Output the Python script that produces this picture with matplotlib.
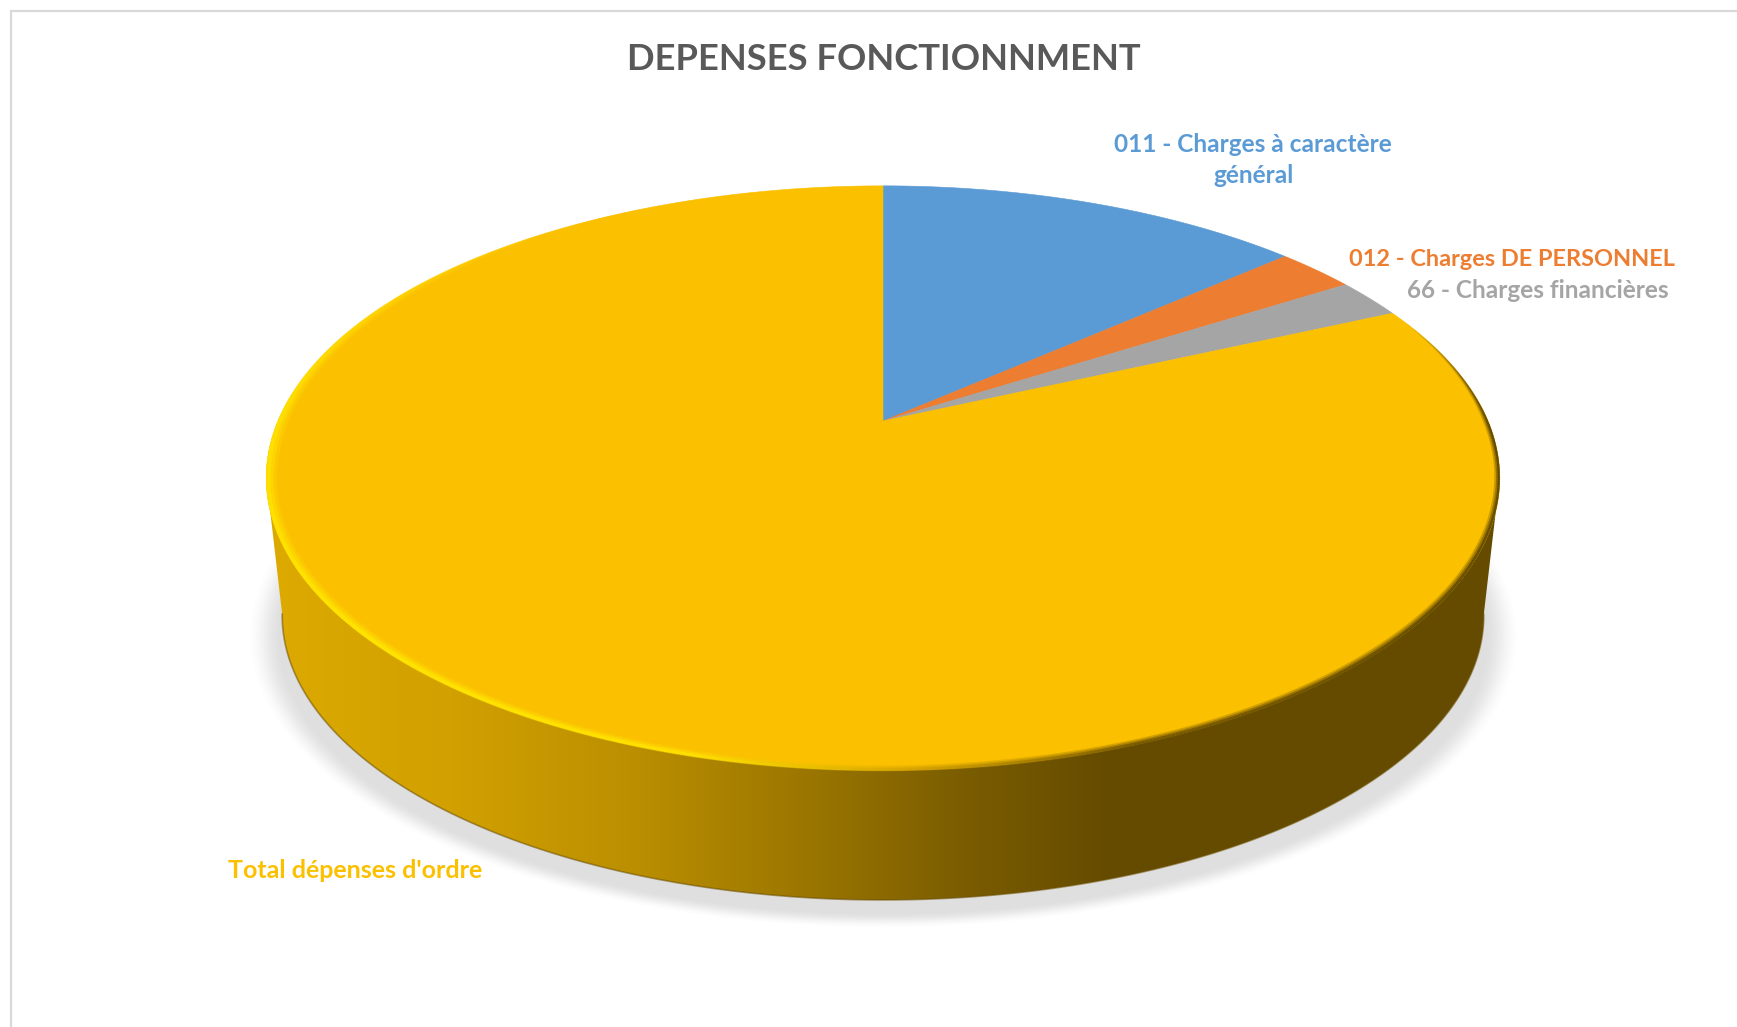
import numpy as np
import matplotlib
matplotlib.use('Agg')
import matplotlib.pyplot as plt
from matplotlib.collections import LineCollection
from matplotlib.colors import to_rgb
from matplotlib.patches import Polygon

# Data

title = 'DEPENSES FONCTIONNMENT'
categories = ['011 - Charges à caractère\ngénéral', '012 - Charges DE PERSONNEL',
              '66 - Charges financières', "Total dépenses d'ordre"]
values = [13.5, 2.5, 2.2, 81.8]
colors = ['#5B9BD5', '#ED7D31', '#A5A5A5', '#FBC000']

# Figure, one axes in pixels of the picture

plt.rcParams['font.family'] = ['Lato', 'DejaVu Sans']
fig = plt.figure(figsize=(17.37, 10.27), dpi=100)
ax = fig.add_axes([0, 0, 1, 1])
ax.set_xlim(0, 1737)
ax.set_ylim(1027, 0)
ax.axis('off')

# Perspective of the disc

CX, CY = 883, 421
A, B, K = 605, 281, 0.195


def project(theta, scale=1.0, y0=CY):
    # theta in degrees, clockwise from the back of the disc
    t = np.radians(theta)
    u, v = np.sin(t), np.cos(t)
    w = 1 + K * v
    return CX + scale * A * u / w, y0 - scale * B * v / w


def blend(pos, knots, cols):
    rgb = np.array([to_rgb(c) for c in cols])
    return np.stack([np.interp(pos, knots, rgb[:, i]) for i in range(3)], axis=-1)


# Frame of the chart, cut by the picture on the right

ax.plot([10.5, 10.5, 1737], [1026, 11, 11], color='#D9D9D9', lw=1.6, solid_joinstyle='miter')

# Shadow under the disc

xx, yy = np.meshgrid(np.arange(0, 1737), np.arange(0, 1027))
rr = np.sqrt(((xx - 883) / 636.0) ** 2 + ((yy - 636) / 292.0) ** 2)
fade = np.clip((1.0 - rr) / 0.055, 0, 1)
fade = fade * fade * (3 - 2 * fade)
shadow = np.zeros(xx.shape + (4,))
shadow[..., :3] = 0.5
shadow[..., 3] = fade * 0.25
ax.imshow(shadow, extent=(0, 1737, 1027, 0), aspect='auto', zorder=1, interpolation='bilinear')

# Side wall with its gradient

front = np.linspace(101, 259, 300)
low_x, low_y = project(front, scale=0.974, y0=560)
top_x, top_y = project(np.array([101.0, 259.0]))
wall_x = np.r_[top_x[0], low_x, top_x[1]]
wall_y = np.r_[top_y[0], low_y, top_y[1]]

grad = blend(np.arange(1737), [270, 450, 640, 800, 967, 1100, 1500],
             ['#DCAA00', '#D2A000', '#BA8E00', '#9C7700', '#7A5C00', '#664C00', '#654B00'])
grad = np.repeat(grad[None, :, :], 2, axis=0)
im = ax.imshow(grad, extent=(0, 1737, 1027, 0), aspect='auto', zorder=2)
clip = Polygon(np.c_[wall_x, wall_y], closed=True, transform=ax.transData)
im.set_clip_path(clip)
ax.plot(low_x, low_y, color='#6B5000', lw=1.2, alpha=0.55, zorder=3)

# Slices on top of the disc

edges = np.r_[0, np.cumsum(values)] / np.sum(values) * 360
for i in range(len(values)):
    th = np.linspace(edges[i], edges[i + 1], 200)
    px, py = project(th)
    ax.fill(np.r_[CX, px], np.r_[CY, py], color=colors[i], lw=0.4, zorder=4)

# Bevel along the rim: dark on the right, bright yellow on the front left

rim = np.linspace(68, 335, 800)
mid = 0.5 * (rim[:-1] + rim[1:])
rgb = blend(mid, [68, 90, 130, 160, 178, 195, 225, 270, 300, 335],
            ['#5E4700', '#5E4700', '#6A4F00', '#7A5C00', '#D8A500',
             '#FFE000', '#FFE400', '#FFE000', '#FFD000', '#FBC000'])
width = np.interp(mid, [68, 90, 135, 180, 225, 265, 300, 335], [1, 5, 7, 6, 9, 11, 6, 1])
fade_in = np.interp(mid, [68, 92, 300, 335], [0, 1, 1, 0])
for f, a in [(1.0, 0.3), (0.7, 0.5), (0.4, 1.0)]:
    s0 = 1 - np.interp(rim[:-1], mid, width) * f / 2 / 605
    s1 = 1 - np.interp(rim[1:], mid, width) * f / 2 / 605
    p0 = np.c_[project(rim[:-1], scale=s0)]
    p1 = np.c_[project(rim[1:], scale=s1)]
    lc = LineCollection(np.stack([p0, p1], axis=1), colors=np.c_[rgb, fade_in * a],
                        linewidths=width * f * 0.72, capstyle='butt', zorder=5)
    ax.add_collection(lc)

# Texts

ax.text(884, 60, title, color='#595959', fontsize=26.2, fontweight='bold', ha='center', va='center', zorder=6)
ax.text(1253, 160, categories[0], color=colors[0], fontsize=17.6, fontweight='bold', ha='center', va='center',
        linespacing=1.4, zorder=6)
ax.text(1512, 259, categories[1], color=colors[1], fontsize=16.9, fontweight='bold', ha='center', va='center', zorder=6)
ax.text(1538, 291, categories[2], color=colors[2], fontsize=17.6, fontweight='bold', ha='center', va='center', zorder=6)
ax.text(355, 870, categories[3], color=colors[3], fontsize=18, fontweight='bold', ha='center', va='center', zorder=6)

fig.savefig('out.png', dpi=100)
